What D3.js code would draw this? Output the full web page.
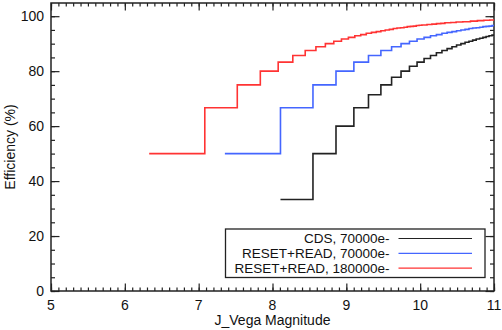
<!DOCTYPE html>
<html>
<head>
<meta charset="utf-8">
<script src="https://cdn.jsdelivr.net/npm/d3@7"></script>
<style>
	body { margin: 0; background: #fff; }
	text { font-family: "Liberation Sans", Arial, sans-serif; fill: #111; }
</style>
</head>
<body>
<svg id="chart" width="502" height="330"></svg>
<script>
// step breakpoints: [magnitude, efficiency %]
var cdsSteps = [
	[8.108, 33.3], [8.548, 50.0], [8.860, 60.0], [9.102, 66.7], [9.300, 71.4],
	[9.468, 75.0], [9.613, 77.8], [9.741, 80.0], [9.855, 81.8], [9.958, 83.3],
	[10.053, 84.6], [10.140, 85.7], [10.220, 86.7], [10.295, 87.5], [10.365, 88.2],
	[10.431, 88.9], [10.493, 89.5], [10.552, 90.0], [10.608, 90.5], [10.661, 90.9],
	[10.711, 91.3], [10.759, 91.7], [10.806, 92.0], [10.850, 92.3], [10.893, 92.6],
	[10.933, 92.9], [10.973, 93.1], [11.0, 93.1]
];
var rr70Steps = [
	[7.355, 50.0], [8.108, 66.7], [8.548, 75.0], [8.860, 80.0], [9.102, 83.3],
	[9.300, 85.7], [9.468, 87.5], [9.613, 88.9], [9.741, 90.0], [9.855, 90.9],
	[9.958, 91.7], [10.053, 92.3], [10.140, 92.9], [10.220, 93.3], [10.295, 93.8],
	[10.365, 94.1], [10.431, 94.4], [10.493, 94.7], [10.552, 95.0], [10.608, 95.2],
	[10.661, 95.5], [10.711, 95.7], [10.759, 95.8], [10.806, 96.0], [10.850, 96.2],
	[10.893, 96.3], [10.933, 96.4], [10.973, 96.6], [11.0, 96.6]
];
var rr180Steps = [
	[6.330, 50.0], [7.083, 66.7], [7.523, 75.0], [7.835, 80.0], [8.077, 83.3],
	[8.275, 85.7], [8.443, 87.5], [8.588, 88.9], [8.716, 90.0], [8.830, 90.9],
	[8.934, 91.7], [9.028, 92.3], [9.115, 92.9], [9.195, 93.3], [9.270, 93.8],
	[9.340, 94.1], [9.406, 94.4], [9.468, 94.7], [9.527, 95.0], [9.583, 95.2],
	[9.636, 95.5], [9.686, 95.7], [9.734, 95.8], [9.781, 96.0], [9.825, 96.2],
	[9.868, 96.3], [9.908, 96.4], [9.948, 96.6], [9.986, 96.7], [10.023, 96.8],
	[10.093, 97.0], [10.159, 97.1], [10.221, 97.3], [10.279, 97.4], [10.335, 97.6],
	[10.414, 97.7], [10.487, 97.9], [10.577, 98.0], [10.681, 98.2], [10.775, 98.4],
	[10.862, 98.5], [10.943, 98.6], [11.0, 98.6]
];
var seriesNames = ["CDS, 70000e-", "RESET+READ, 70000e-", "RESET+READ, 180000e-"];
var seriesColors = ["#222", "#4466ff", "#ff3333"];
var xTicks = [5, 6, 7, 8, 9, 10, 11];
var yTicks = [0, 20, 40, 60, 80, 100];

var svg = d3.select("#chart");
var margin = {top: 3, right: 8, bottom: 39, left: 51};
var width = 502 - margin.left - margin.right,
	height = 330 - margin.top - margin.bottom;

var x = d3.scaleLinear().domain([5, 11]).range([0, width]);
var y = d3.scaleLinear().domain([0, 104.8]).range([height, 0]);

var g = svg.append("g")
	.attr("transform", "translate(" + margin.left + "," + margin.top + ")");

// minor ticks every 0.1 mag and every 5 %
var xMinor = d3.range(50, 111).map(function(d) { return d / 10; });
var yMinor = d3.range(0, 105, 5);

function tickAxis(axis, scale, ticks, size) {
	return axis(scale).tickValues(ticks).tickSize(size).tickFormat("");
}

// inward ticks on all four sides
g.append("g").attr("transform", "translate(0," + height + ")").call(tickAxis(d3.axisTop, x, xMinor, 3.5));
g.append("g").attr("transform", "translate(0," + height + ")").call(tickAxis(d3.axisTop, x, xTicks, 7.5));
g.append("g").call(tickAxis(d3.axisBottom, x, xMinor, 3.5));
g.append("g").call(tickAxis(d3.axisBottom, x, xTicks, 7.5));
g.append("g").call(tickAxis(d3.axisRight, y, yMinor, 4));
g.append("g").call(tickAxis(d3.axisRight, y, yTicks, 8.5));
g.append("g").attr("transform", "translate(" + width + ",0)").call(tickAxis(d3.axisLeft, y, yMinor, 4));
g.append("g").attr("transform", "translate(" + width + ",0)").call(tickAxis(d3.axisLeft, y, yTicks, 8.5));

g.selectAll(".domain").remove();
g.selectAll(".tick line").attr("stroke", "#222").attr("stroke-width", 1.2);

g.append("rect")
	.attr("width", width)
	.attr("height", height)
	.attr("fill", "none")
	.attr("stroke", "#222")
	.attr("stroke-width", 1.5);

// tick labels
g.selectAll(".xlab")
	.data(xTicks)
	.enter().append("text")
	.attr("x", function(d) { return x(d); })
	.attr("y", height + 19)
	.attr("text-anchor", "middle")
	.attr("font-size", 14)
	.text(function(d) { return d; });

g.selectAll(".ylab")
	.data(yTicks)
	.enter().append("text")
	.attr("x", -7)
	.attr("y", function(d) { return y(d); })
	.attr("dy", "0.36em")
	.attr("text-anchor", "end")
	.attr("font-size", 14)
	.text(function(d) { return d; });

svg.append("text")
	.attr("x", margin.left + width / 2)
	.attr("y", 325)
	.attr("text-anchor", "middle")
	.attr("font-size", 14)
	.text("J_Vega Magnitude");

svg.append("text")
	.attr("transform", "translate(15," + (margin.top + height / 2) + ") rotate(-90)")
	.attr("text-anchor", "middle")
	.attr("font-size", 14)
	.text("Efficiency (%)");

// the step curves
var line = d3.line()
	.x(function(d) { return x(d[0]); })
	.y(function(d) { return y(d[1]); })
	.curve(d3.curveStepAfter);

var allSteps = [cdsSteps, rr70Steps, rr180Steps];
g.selectAll(".series")
	.data(allSteps)
	.enter().append("path")
	.attr("class", "series")
	.attr("d", line)
	.attr("fill", "none")
	.attr("stroke", function(d, i) { return seriesColors[i]; })
	.attr("stroke-width", 1.6);

// legend box
var legend = svg.append("g").attr("transform", "translate(225.5,229)");
legend.append("rect")
	.attr("width", 259.5)
	.attr("height", 48.5)
	.attr("fill", "#fff")
	.attr("stroke", "#222")
	.attr("stroke-width", 1.3);

var entry = legend.selectAll(".entry")
	.data(seriesNames)
	.enter().append("g")
	.attr("transform", function(d, i) { return "translate(0," + (9.5 + i * 14.8) + ")"; });

entry.append("text")
	.attr("x", 164)
	.attr("dy", "0.36em")
	.attr("text-anchor", "end")
	.attr("font-size", 13.5)
	.text(function(d) { return d; });

entry.append("line")
	.attr("x1", 173)
	.attr("x2", 246.5)
	.attr("stroke", function(d) { return seriesColors[seriesNames.indexOf(d)]; })
	.attr("stroke-width", 1.2);
</script>
</body>
</html>
